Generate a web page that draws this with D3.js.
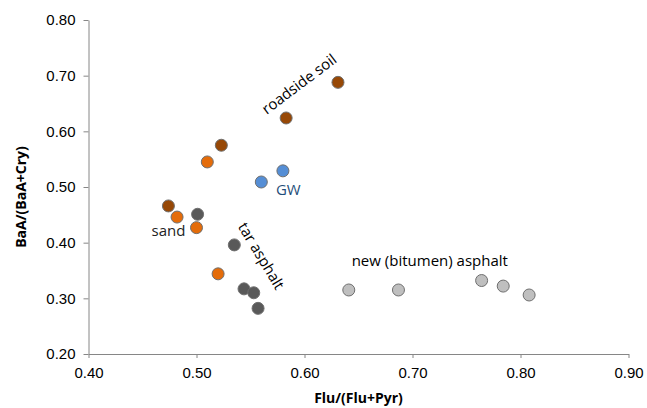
<!DOCTYPE html>
<html>
<head>
<meta charset="utf-8">
<script src="https://cdn.jsdelivr.net/npm/d3@7"></script>
<style>
  html, body { margin: 0; padding: 0; background: #fff; }
  svg { display: block; font-family: "Open Sans", "Noto Sans", sans-serif; }
</style>
</head>
<body>
<div id="chart"></div>
<script>
// Flu/(Flu+Pyr) vs BaA/(BaA+Cry) diagnostic ratios, one array per sample group
const roadsideSoil = [
  [0.631, 0.688], [0.583, 0.624], [0.523, 0.575], [0.474, 0.466]
];
const sand = [
  [0.510, 0.545], [0.482, 0.446], [0.500, 0.427], [0.520, 0.344]
];
const gw = [
  [0.560, 0.509], [0.580, 0.529]
];
const tarAsphalt = [
  [0.501, 0.451], [0.535, 0.396], [0.544, 0.317], [0.553, 0.310], [0.557, 0.282]
];
const newAsphalt = [
  [0.641, 0.315], [0.687, 0.315], [0.764, 0.332], [0.784, 0.322], [0.808, 0.306]
];

const xTicks = [0.40, 0.50, 0.60, 0.70, 0.80, 0.90];
const yTicks = [0.20, 0.30, 0.40, 0.50, 0.60, 0.70, 0.80];

// group labels: text, anchor position (data units), rotation
const labels = [
  { text: "roadside soil", x: 0.595, y: 0.685, rot: -37, color: "#000" },
  { text: "GW", x: 0.585, y: 0.495, rot: 0, color: "#1f4e79" },
  { text: "sand", x: 0.474, y: 0.421, rot: 0, color: "#222" },
  { text: "tar asphalt", x: 0.560, y: 0.376, rot: 59, color: "#000" },
  { text: "new (bitumen) asphalt", x: 0.716, y: 0.367, rot: 0, color: "#000" }
];

const series = [
  { pts: tarAsphalt, fill: "#595959" },
  { pts: newAsphalt, fill: "#bfbfbf" },
  { pts: roadsideSoil, fill: "#974806" },
  { pts: sand, fill: "#e46c0a" },
  { pts: gw, fill: "#558ed5" }
];

const w = 647, h = 408;
const margin = { top: 20, right: 18.5, bottom: 54, left: 88.5 };

const svg = d3.select("#chart").append("svg")
  .attr("width", w)
  .attr("height", h);

const x = d3.scaleLinear().domain([0.4, 0.9]).range([margin.left, w - margin.right]);
const y = d3.scaleLinear().domain([0.2, 0.8]).range([h - margin.bottom, margin.top]);

const axisColor = "#868686";

const gx = svg.append("g")
  .attr("transform", `translate(0,${h - margin.bottom})`)
  .call(d3.axisBottom(x).tickValues(xTicks).tickFormat(d3.format(".2f")).tickSize(4).tickSizeOuter(0).tickPadding(9));
const gy = svg.append("g")
  .attr("transform", `translate(${margin.left},0)`)
  .call(d3.axisLeft(y).tickValues(yTicks).tickFormat(d3.format(".2f")).tickSize(5).tickSizeOuter(0).tickPadding(8));

for (const g of [gx, gy]) {
  g.select(".domain").attr("stroke", axisColor).attr("stroke-width", 1);
  g.selectAll(".tick line").attr("stroke", axisColor);
  g.selectAll(".tick text").style("font-size", "15px").attr("fill", "#000");
}

svg.append("text")
  .attr("x", (margin.left + w - margin.right) / 2)
  .attr("y", 403)
  .attr("text-anchor", "middle")
  .style("font-size", "14px")
  .style("font-weight", "bold")
  .text("Flu/(Flu+Pyr)");

svg.append("text")
  .attr("transform", "translate(26,197) rotate(-90)")
  .attr("text-anchor", "middle")
  .style("font-size", "14px")
  .style("font-weight", "bold")
  .text("BaA/(BaA+Cry)");

for (const s of series) {
  svg.append("g")
    .selectAll("circle")
    .data(s.pts)
    .join("circle")
    .attr("cx", (d) => x(d[0]))
    .attr("cy", (d) => y(d[1]))
    .attr("r", 6)
    .attr("fill", s.fill)
    .attr("stroke", "#6f6f6f")
    .attr("stroke-width", 1);
}

svg.append("g")
  .selectAll("text")
  .data(labels)
  .join("text")
  .attr("transform", (d) => `translate(${x(d.x)},${y(d.y)}) rotate(${d.rot})`)
  .attr("text-anchor", "middle")
  .attr("dy", "0.35em")
  .attr("fill", (d) => d.color)
  .style("font-size", "15px")
  .text((d) => d.text);
</script>
</body>
</html>
